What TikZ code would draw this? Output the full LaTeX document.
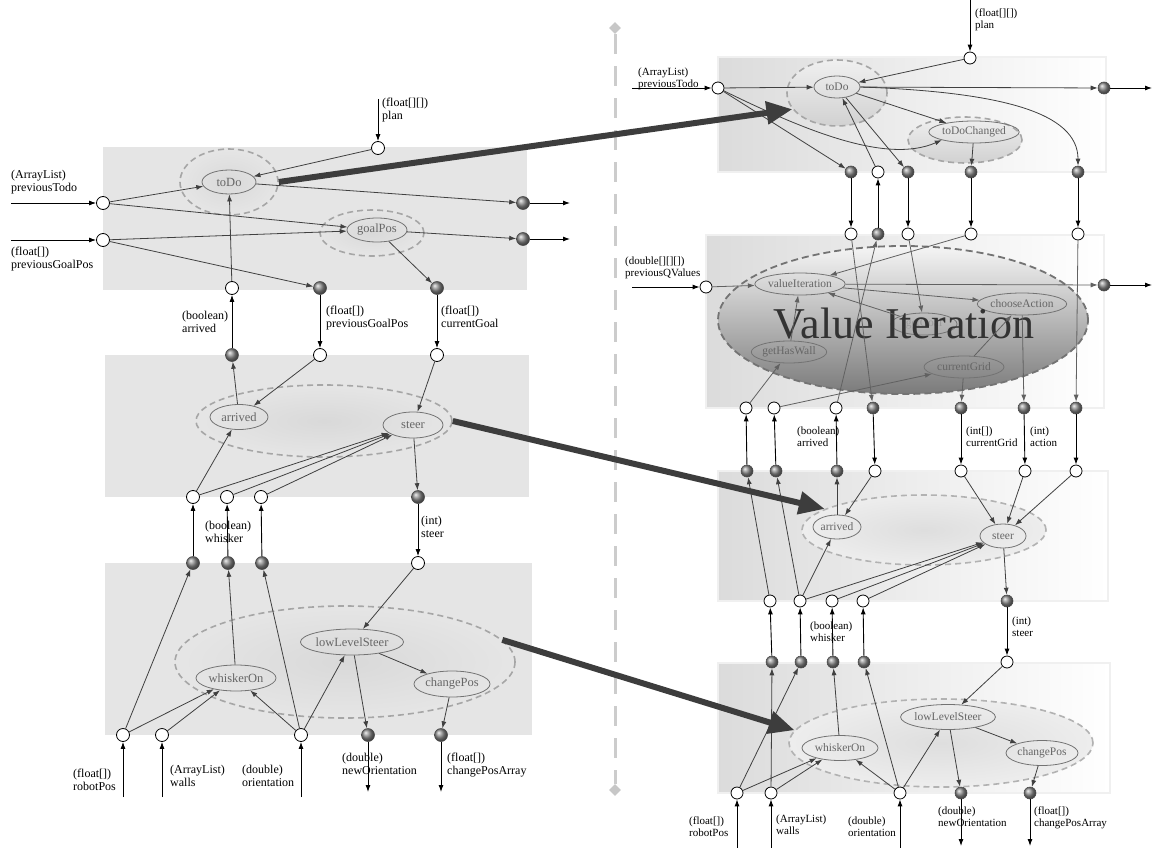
\documentclass[tikz,border=0pt]{standalone}
\usepackage{fontspec}
\setmainfont{Liberation Serif}
\usetikzlibrary{shapes.geometric,arrows.meta}
\newcommand{\lblL}{\fontsize{12}{12.5}\selectfont}
\newcommand{\lblR}{\fontsize{11}{11.5}\selectfont}
\newcommand{\fnL}{\fontsize{12.5}{13}\selectfont}
\newcommand{\fnR}{\fontsize{11.5}{12}\selectfont}
\tikzset{
  lpanel/.style={fill=black!10},
  rpanel/.style={left color=black!14, right color=white, draw=black!6, line width=1.5pt},
  fnL/.style 2 args={ellipse, draw=black!55, text=black!60, font=\fnL, minimum width=#1, minimum height=#2, inner sep=0pt, line width=0.8pt},
  fnR/.style 2 args={ellipse, draw=black!55, text=black!60, font=\fnR, minimum width=#1, minimum height=#2, inner sep=0pt, line width=0.8pt},
  grpL/.style={ellipse, inner sep=0pt, draw=black!35, dash pattern=on 6pt off 4pt, line width=1.6pt, inner color=black!15, outer color=black!10},
  grpR/.style={ellipse, inner sep=0pt, draw=black!35, dash pattern=on 6pt off 4pt, line width=1.6pt, top color=black!6, bottom color=black!18},
  grpRl/.style={ellipse, inner sep=0pt, draw=black!30, dash pattern=on 6pt off 4pt, line width=1.6pt},
  vigrp/.style={ellipse, inner sep=0pt, draw=black!55, dash pattern=on 7pt off 4pt, line width=1.8pt, top color=black!4, bottom color=black!52},
  pin/.style={circle, draw=black, fill=white, minimum size=#1, inner sep=0pt, line width=0.8pt},
  pin/.default=13pt,
  pout/.style={circle, draw=black!70, shading=ball, ball color=black!45, minimum size=#1, inner sep=0pt, line width=0.6pt},
  pout/.default=13pt,
  wire/.style={draw=black!75, line width=0.8pt, -{Latex[length=7pt,width=5pt]}},
  vwire/.style={draw=black!62, line width=0.8pt, -{Latex[length=7pt,width=5pt]}},
  ext/.style={draw=black, line width=0.9pt, -{Latex[length=7pt,width=5pt]}},
  big/.style={draw=black!76, line width=6pt, -{Triangle[length=26pt,width=22pt]}},
  labL/.style={font=\lblL, align=left, inner sep=0pt, anchor=north west},
  labR/.style={font=\lblR, align=left, inner sep=0pt, anchor=north west},
  divider/.style={draw=black!20, line width=3pt, dash pattern=on 20pt off 12pt},
  endmark/.style={diamond, fill=black!22, minimum size=12pt, inner sep=0pt}
}
\begin{document}
\begin{tikzpicture}[x=1pt,y=-1pt]
\useasboundingbox (0,0) rectangle (1164,848);

% ---------------- left: component panels ----------------
\fill[lpanel] (103,147) rectangle (527,290);
\fill[lpanel] (105,355) rectangle (529,497);
\fill[lpanel] (105,563) rectangle (532,735);

% groups
\node[grpL, minimum width=98pt, minimum height=66pt] (gLtoDo) at (229,182) {};
\node[grpL, minimum width=104pt, minimum height=46pt] (gLgoal) at (372,233) {};
\node[grpL, minimum width=256pt, minimum height=72pt] (gLmid) at (324,421) {};
\node[grpL, minimum width=340pt, minimum height=112pt] (gLbot) at (345,662) {};

% functions
\node[fnL={54pt}{24pt}] (LtoDo) at (229,182) {toDo};
\node[fnL={60pt}{24pt}] (LgoalPos) at (377,230) {goalPos};
\node[fnL={58pt}{25pt}] (Larrived) at (239,417) {arrived};
\node[fnL={60pt}{26pt}] (Lsteer) at (413,425) {steer};
\node[fnL={80pt}{26pt}] (LwhiskerOn) at (236,678) {whiskerOn};
\node[fnL={100pt}{26pt}] (LlowLevel) at (352,642) {lowLevelSteer};
\node[fnL={76pt}{26pt}] (LchangePos) at (452,684) {changePos};

% ports
\node[pin] (Lplan) at (378,148) {};
\node[pin] (LpT) at (103,203) {};
\node[pin] (LpG) at (103,240) {};
\node[pout] (Lo1) at (523,203) {};
\node[pout] (Lo2) at (523,239) {};
\node[pin] (La1) at (232,288) {};
\node[pout] (Lg1) at (320,288) {};
\node[pout] (Lc1) at (437,288) {};
\node[pout] (La2) at (232,355) {};
\node[pin] (Lg2) at (320,355) {};
\node[pin] (Lc2) at (437,355) {};
\node[pin] (Lw1) at (193,497) {};
\node[pin] (Lw2) at (227,497) {};
\node[pin] (Lw3) at (261,497) {};
\node[pout] (Ls2) at (418,497) {};
\node[pout] (Lw1b) at (193,563) {};
\node[pout] (Lw2b) at (228,563) {};
\node[pout] (Lw3b) at (262,563) {};
\node[pin] (Ls3) at (418,563) {};
\node[pin] (Lrp) at (123,735) {};
\node[pin] (Lwl) at (162,735) {};
\node[pin] (Lor) at (301,735) {};
\node[pout] (Lno) at (368,735) {};
\node[pout] (Lcp) at (441,735) {};

\coordinate (LplanIn) at (378,99);
\coordinate (LpTin) at (11,203);
\coordinate (LpGin) at (11,240);
\coordinate (Lo1out) at (570,203);
\coordinate (Lo2out) at (570,239);
\coordinate (Lrpin) at (123,797);
\coordinate (Lwlin) at (162,797);
\coordinate (Lorin) at (301,797);
\coordinate (Lnoout) at (368,792);
\coordinate (Lcpout) at (441,792);

% labels
\node[labL] at (382,98) {(float[][])\\plan};
\node[labL] at (11,170) {(ArrayList)\\previousTodo};
\node[labL] at (11,247) {(float[])\\previousGoalPos};
\node[labL] at (182,311) {(boolean)\\arrived};
\node[labL] at (326,306) {(float[])\\previousGoalPos};
\node[labL] at (441,306) {(float[])\\currentGoal};
\node[labL] at (205,521) {(boolean)\\whisker};
\node[labL] at (421,516) {(int)\\steer};
\node[labL] at (73,769) {(float[])\\robotPos};
\node[labL] at (170,765) {(ArrayList)\\walls};
\node[labL] at (242,765) {(double)\\orientation};
\node[labL] at (342,753) {(double)\\newOrientation};
\node[labL] at (447,753) {(float[])\\changePosArray};

% connectors
\draw[ext] (LplanIn) -- (Lplan);
\draw[ext] (LpTin) -- (LpT);
\draw[ext] (LpGin) -- (LpG);
\draw[wire] (LpT) -- (LtoDo);
\draw[wire] (LpT) -- (LgoalPos);
\draw[wire] (LpG) -- (LgoalPos);
\draw[wire] (LpG) -- (Lg1);
\draw[wire] (Lplan) -- (LtoDo);
\draw[wire] (LtoDo) -- (Lo1);
\draw[wire] (LgoalPos) -- (Lo2);
\draw[wire] (LgoalPos) -- (Lc1);
\draw[wire] (La1) -- (LtoDo);
\draw[ext] (Lo1) -- (Lo1out);
\draw[ext] (Lo2) -- (Lo2out);
\draw[ext] (La2) -- (La1);
\draw[ext] (Lg1) -- (Lg2);
\draw[ext] (Lc1) -- (Lc2);
\draw[wire] (Lg2) -- (Larrived);
\draw[wire] (Lc2) -- (Lsteer);
\draw[wire] (Larrived) -- (La2);
\draw[wire] (Lw1) -- (Larrived);
\draw[wire] (Lw1) -- (Lsteer);
\draw[wire] (Lw2) -- (Lsteer);
\draw[wire] (Lw3) -- (Lsteer);
\draw[wire] (Lsteer) -- (Ls2);
\draw[ext] (Lw1b) -- (Lw1);
\draw[ext] (Lw2b) -- (Lw2);
\draw[ext] (Lw3b) -- (Lw3);
\draw[ext] (Ls2) -- (Ls3);
\draw[wire] (Ls3) -- (LlowLevel);
\draw[wire] (Lrp) -- (Lw1b);
\draw[wire] (Lrp) -- (LwhiskerOn);
\draw[wire] (Lwl) -- (LwhiskerOn);
\draw[wire] (LwhiskerOn) -- (Lw2b);
\draw[wire] (Lor) -- (Lw3b);
\draw[wire] (Lor) -- (LwhiskerOn);
\draw[wire] (Lor) -- (LlowLevel);
\draw[wire] (LlowLevel) -- (LchangePos);
\draw[wire] (LlowLevel) -- (Lno);
\draw[wire] (LchangePos) -- (Lcp);
\draw[ext] (Lrpin) -- (Lrp);
\draw[ext] (Lwlin) -- (Lwl);
\draw[ext] (Lorin) -- (Lor);
\draw[ext] (Lno) -- (Lnoout);
\draw[ext] (Lcp) -- (Lcpout);

% ---------------- separator ----------------
\node[endmark] (dtop) at (615,28) {};
\node[endmark] (dbot) at (615,790) {};
\draw[divider] (dtop) -- (dbot);

% ---------------- right: component panels ----------------
\path[rpanel] (718,57) rectangle (1106,172);
\path[rpanel] (706,235) rectangle (1104,408);
\path[rpanel] (718,471) rectangle (1108,601);
\path[rpanel] (718,663) rectangle (1110,793);

% groups
\node[grpR, minimum width=100pt, minimum height=66pt] (gRtoDo) at (837,93) {};
\node[grpR, minimum width=114pt, minimum height=46pt] (gRtoDoCh) at (965,140) {};
\node[vigrp, minimum width=370pt, minimum height=148pt] (VI) at (903,320) {};
\node[grpRl, minimum width=244pt, minimum height=70pt, inner color=black!13, outer color=black!7] (gRmid) at (924,530) {};
\node[grpRl, minimum width=304pt, minimum height=88pt, inner color=black!13, outer color=black!7] (gRbot) at (941,743) {};

% functions
\node[fnR={46pt}{22pt}] (RtoDo) at (837,87) {toDo};
\node[fnR={84pt}{22pt}] (RtoDoCh) at (974,132) {toDoChanged};
\node[fnR={78pt}{22pt}] (RvalIt) at (800,284) {valueIteration};
\node[fnR={76pt}{22pt}] (RchooseA) at (1022,304) {chooseAction};
\node[fnR={74pt}{22pt}] (RgetHW) at (789,352) {getHasWall};
\node[fnR={80pt}{22pt}] (RcurGrid) at (964,367) {currentGrid};
\node[fnR={66pt}{22pt}, text=black!40] (Rhid) at (924,324) {getGoal};
\node[fnR={48pt}{24pt}] (Rarrived) at (837,527) {arrived};
\node[fnR={46pt}{24pt}] (Rsteer) at (1003,536) {steer};
\node[fnR={76pt}{25pt}] (RwhiskerOn) at (840,748) {whiskerOn};
\node[fnR={92pt}{25pt}] (RlowLevel) at (948,717) {lowLevelSteer};
\node[fnR={72pt}{25pt}] (RchangePos) at (1042,753) {changePos};

% ports
\node[pin=12pt] (Rplan) at (970,58) {};
\node[pin=12pt] (RpT) at (718,88) {};
\node[pout=12pt] (Rout1) at (1104,88) {};
\node[pout=12pt] (Rt1) at (851,172) {};
\node[pin=12pt] (Rt2) at (878,172) {};
\node[pout=12pt] (Rt3) at (908,172) {};
\node[pout=12pt] (Rt4) at (971,172) {};
\node[pout=12pt] (Rt5) at (1078,172) {};
\node[pin=12pt] (Rv1) at (851,234) {};
\node[pout=12pt] (Rv2) at (878,234) {};
\node[pin=12pt] (Rv3) at (908,234) {};
\node[pin=12pt] (Rv4) at (971,234) {};
\node[pin=12pt] (Rv5) at (1078,234) {};
\node[pin=12pt] (RpQ) at (706,287) {};
\node[pout=12pt] (Rout2) at (1104,285) {};
\node[pin=12pt] (Rb1) at (746,408) {};
\node[pin=12pt] (Rb2) at (774,408) {};
\node[pin=12pt] (Rb3) at (836,408) {};
\node[pout=12pt] (Rb4) at (873,408) {};
\node[pout=12pt] (Rb5) at (961,408) {};
\node[pout=12pt] (Rb6) at (1024,408) {};
\node[pout=12pt] (Rb7) at (1076,408) {};
\node[pout=12pt] (Rs1) at (747,471) {};
\node[pout=12pt] (Rs2) at (776,471) {};
\node[pout=12pt] (Rs3) at (837,471) {};
\node[pin=12pt] (Rs4) at (875,471) {};
\node[pin=12pt] (Rs5) at (961,471) {};
\node[pin=12pt] (Rs6) at (1025,471) {};
\node[pin=12pt] (Rs7) at (1076,471) {};
\node[pin=12pt] (Rd1) at (770,601) {};
\node[pin=12pt] (Rd2) at (800,601) {};
\node[pin=12pt] (Rd3) at (832,601) {};
\node[pin=12pt] (Rd4) at (863,601) {};
\node[pout=12pt] (Rd5) at (1007,601) {};
\node[pout=12pt] (Re1) at (772,662) {};
\node[pout=12pt] (Re2) at (801,662) {};
\node[pout=12pt] (Re3) at (833,662) {};
\node[pout=12pt] (Re4) at (864,662) {};
\node[pin=12pt] (Re5) at (1007,662) {};
\node[pin=12pt] (Rf1) at (737,793) {};
\node[pin=12pt] (Rf2) at (771,793) {};
\node[pin=12pt] (Rf3) at (900,793) {};
\node[pout=12pt] (Rf4) at (961,793) {};
\node[pout=12pt] (Rf5) at (1030,793) {};

\coordinate (RplanIn) at (970,0);
\coordinate (RpTin) at (632,88);
\coordinate (Rout1e) at (1152,88);
\coordinate (RpQin) at (632,287);
\coordinate (Rout2e) at (1152,285);
\coordinate (Rf1in) at (737,848);
\coordinate (Rf2in) at (771,848);
\coordinate (Rf3in) at (900,848);
\coordinate (Rf4e) at (961,846);
\coordinate (Rf5e) at (1030,846);

% labels
\node[labR] at (975,9) {(float[][])\\plan};
\node[labR] at (638,68) {(ArrayList)\\previousTodo};
\node[labR] at (625,257) {(double[][][])\\previousQValues};
\node[labR] at (797,427) {(boolean)\\arrived};
\node[labR] at (966,427) {(int[])\\currentGrid};
\node[labR] at (1030,427) {(int)\\action};
\node[labR] at (810,622) {(boolean)\\whisker};
\node[labR] at (1012,617) {(int)\\steer};
\node[labR] at (689,817) {(float[])\\robotPos};
\node[labR] at (776,815) {(ArrayList)\\walls};
\node[labR] at (848,817) {(double)\\orientation};
\node[labR] at (938,807) {(double)\\newOrientation};
\node[labR] at (1034,807) {(float[])\\changePosArray};

% title of the value iteration group
\node[font=\fontsize{44}{44}\selectfont, text=black!80, anchor=base, inner sep=0pt] (VItitle) at (904,338) {Value Iteration};

% connectors: to-do panel
\draw[ext] (RplanIn) -- (Rplan);
\draw[ext] (RpTin) -- (RpT);
\draw[wire] (RpT) -- (RtoDo);
\draw[wire] (RpT) -- (Rt1);
\draw[wire] (RpT) .. controls (800,128) and (885,165) .. (RtoDoCh.south west);
\draw[wire] (Rplan) -- (RtoDo);
\draw[wire] (RtoDo) -- (Rout1);
\draw[ext] (Rout1) -- (Rout1e);
\draw[wire] (RtoDo) -- (RtoDoCh);
\draw[wire] (RtoDo) -- (Rt3);
\draw[wire] (Rt2) -- (RtoDo);
\draw[wire] (RtoDoCh) -- (Rt4);
\draw[wire] (RtoDo.east) .. controls (1000,92) and (1078,112) .. (Rt5);
\draw[ext] (Rt1) -- (Rv1);
\draw[ext] (Rv2) -- (Rt2);
\draw[ext] (Rt3) -- (Rv3);
\draw[ext] (Rt4) -- (Rv4);
\draw[ext] (Rt5) -- (Rv5);

% connectors: value iteration panel
\draw[ext] (RpQin) -- (RpQ);
\draw[vwire] (RpQ) -- (RvalIt);
\draw[vwire] (RvalIt) -- (Rout2);
\draw[ext] (Rout2) -- (Rout2e);
\draw[vwire] (RvalIt) -- (RchooseA);
\draw[vwire] (Rv4) -- (RvalIt);
\draw[vwire] (Rv3) -- (Rhid);
\draw[vwire] (Rhid) -- (RvalIt);
\draw[vwire] (RgetHW) -- (RvalIt);
\draw[vwire] (Rb1) -- (RgetHW);
\draw[vwire] (Rb2) -- (RcurGrid);
\draw[vwire] (RcurGrid) -- (RchooseA);
\draw[vwire] (RcurGrid) -- (Rb5);
\draw[vwire] (RchooseA) -- (Rb6);
\draw[vwire] (Rv5) -- (Rb7);
\draw[vwire] (Rv1) -- (Rb4);
\draw[vwire] (Rb3) -- (Rv2);
\draw[ext] (Rs1) -- (Rb1);
\draw[ext] (Rs2) -- (Rb2);
\draw[ext] (Rs3) -- (Rb3);
\draw[ext] (Rb4) -- (Rs4);
\draw[ext] (Rb5) -- (Rs5);
\draw[ext] (Rb6) -- (Rs6);
\draw[ext] (Rb7) -- (Rs7);

% connectors: steering panel
\draw[wire] (Rd1) -- (Rs1);
\draw[wire] (Rd2) -- (Rs2);
\draw[wire] (Rarrived) -- (Rs3);
\draw[wire] (Rs4) -- (Rarrived);
\draw[wire] (Rs5) -- (Rsteer);
\draw[wire] (Rs6) -- (Rsteer);
\draw[wire] (Rs7) -- (Rsteer);
\draw[wire] (Rd2) -- (Rarrived);
\draw[wire] (Rd2) -- (Rsteer);
\draw[wire] (Rd3) -- (Rsteer);
\draw[wire] (Rd4) -- (Rsteer);
\draw[wire] (Rsteer) -- (Rd5);
\draw[ext] (Re1) -- (Rd1);
\draw[ext] (Re2) -- (Rd2);
\draw[ext] (Re3) -- (Rd3);
\draw[ext] (Re4) -- (Rd4);
\draw[ext] (Rd5) -- (Re5);

% connectors: motion panel
\draw[wire] (Rf1) -- (Re2);
\draw[wire] (Rf2) -- (Re1);
\draw[wire] (Rf1) -- (RwhiskerOn);
\draw[wire] (Rf2) -- (RwhiskerOn);
\draw[wire] (RwhiskerOn) -- (Re3);
\draw[wire] (Rf3) -- (Re4);
\draw[wire] (Rf3) -- (RwhiskerOn);
\draw[wire] (Rf3) -- (RlowLevel);
\draw[wire] (Re5) -- (RlowLevel);
\draw[wire] (RlowLevel) -- (RchangePos);
\draw[wire] (RlowLevel) -- (Rf4);
\draw[wire] (RchangePos) -- (Rf5);
\draw[ext] (Rf1in) -- (Rf1);
\draw[ext] (Rf2in) -- (Rf2);
\draw[ext] (Rf3in) -- (Rf3);
\draw[ext] (Rf4) -- (Rf4e);
\draw[ext] (Rf5) -- (Rf5e);

% ---------------- mapping arrows ----------------
\draw[big] (gLtoDo.east) -- (gRtoDo.200);
\draw[big] (gLmid.east) -- (gRmid.168);
\draw[big] (gLbot.8) -- (gRbot.175);
\end{tikzpicture}
\end{document}
